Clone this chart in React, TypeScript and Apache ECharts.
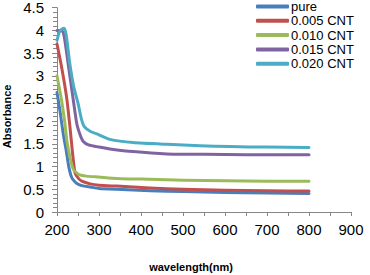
import React, { useEffect, useRef } from "react";
import * as echarts from "echarts";

const seriesNames = ["pure", "0.005 CNT", "0.010 CNT", "0.015 CNT", "0.020 CNT"];
const seriesColors = ["#4A7EBB", "#C0504D", "#9BBB59", "#8064A2", "#4BACC6"];

const pure: [number, number][] = [
  [200, 2.63], [207, 2.23], [215, 1.71], [222, 1.35], [228, 1.0], [235, 0.76], [243, 0.66], [251, 0.61],
  [265, 0.57], [279, 0.55], [300, 0.52], [342, 0.5], [421, 0.47], [501, 0.45], [600, 0.43], [700, 0.42], [800, 0.41],
];
const cnt005: [number, number][] = [
  [200, 3.7], [211, 3.19], [223, 2.52], [231, 1.86], [237, 1.3], [243, 0.86], [251, 0.74], [259, 0.68],
  [279, 0.62], [300, 0.59], [342, 0.57], [421, 0.53], [500, 0.5], [600, 0.48], [700, 0.47], [800, 0.46],
];
const cnt010: [number, number][] = [
  [200, 3.0], [211, 2.45], [219, 1.94], [223, 1.6], [231, 1.2], [239, 0.94], [251, 0.83], [270, 0.79],
  [300, 0.77], [342, 0.74], [421, 0.72], [501, 0.7], [600, 0.69], [700, 0.68], [800, 0.68],
];
const cnt015: [number, number][] = [
  [200, 4.0], [210, 4.0], [215, 3.95], [220, 3.7], [226, 3.3], [236, 2.65], [247, 1.95], [255, 1.7],
  [262, 1.56], [275, 1.48], [300, 1.43], [326, 1.39], [381, 1.33], [462, 1.28], [550, 1.27], [650, 1.26], [800, 1.26],
];
const cnt020: [number, number][] = [
  [200, 3.78], [205, 3.95], [210, 4.02], [217, 4.05], [222, 3.9], [230, 3.3], [240, 2.75], [250, 2.4],
  [258, 2.05], [265, 1.88], [279, 1.78], [300, 1.7], [326, 1.6], [381, 1.53], [462, 1.49], [540, 1.46],
  [612, 1.44], [700, 1.43], [800, 1.42],
];
const seriesData = [pure, cnt005, cnt010, cnt015, cnt020];

const xMin = 200;
const xMax = 900;
const xInterval = 100;
const yMin = 0;
const yMax = 4.5;
const yInterval = 0.5;

export default function App() {
  const ref = useRef<HTMLDivElement>(null);
  useEffect(() => {
    if (!ref.current) return;
    const chart = echarts.init(ref.current, null, { renderer: "svg" });
    const axisColor = "#868686";
    const font = "Liberation Sans, Arial, sans-serif";
    chart.setOption({
      animation: false,
      backgroundColor: "#ffffff",
      grid: { left: 57, right: 19, top: 7.7, bottom: 63, containLabel: false, outerBoundsMode: "none" },
      legend: {
        orient: "vertical",
        left: 256,
        top: 0,
        padding: 0,
        itemWidth: 33,
        itemHeight: 4,
        itemGap: 1.3,
        icon: "roundRect",
        textStyle: { fontFamily: font, fontSize: 13, color: "#000", padding: [0, 0, 0, -3], lineHeight: 13 },
        data: seriesNames,
      },
      xAxis: {
        type: "value",
        min: xMin,
        max: xMax,
        interval: xInterval,
        name: "wavelength(nm)",
        nameLocation: "middle",
        nameGap: 49,
        nameTextStyle: { fontFamily: font, fontSize: 11, fontWeight: "bold", color: "#000", padding: [0, 26, 0, 0] },
        axisLine: { show: true, onZero: false, lineStyle: { color: axisColor, width: 1 } },
        axisTick: { show: true, length: 4, lineStyle: { color: axisColor } },
        minorTick: { show: true, splitNumber: 2, length: 4, lineStyle: { color: axisColor } },
        splitLine: { show: false },
        axisLabel: { fontFamily: font, fontSize: 15, color: "#000", margin: 10 },
      },
      yAxis: {
        type: "value",
        min: yMin,
        max: yMax,
        interval: yInterval,
        name: "Absorbance",
        nameLocation: "middle",
        nameGap: 38,
        nameTextStyle: { fontFamily: font, fontSize: 11, fontWeight: "bold", color: "#000", padding: [0, 13, 0, 0] },
        axisLine: { show: true, lineStyle: { color: axisColor, width: 1 } },
        axisTick: { show: true, length: 5, lineStyle: { color: axisColor } },
        minorTick: { show: true, splitNumber: 5, length: 4, lineStyle: { color: axisColor } },
        splitLine: { show: false },
        axisLabel: { fontFamily: font, fontSize: 15, color: "#000", margin: 13 },
      },
      series: seriesNames.map((name, i) => ({
        name,
        type: "line",
        data: seriesData[i],
        showSymbol: false,
        symbol: "none",
        smooth: 0.2,
        lineStyle: { color: seriesColors[i], width: 3, cap: "round", join: "round" },
        itemStyle: { color: seriesColors[i] },
        z: 2 + i,
      })),
    });
    return () => chart.dispose();
  }, []);
  return <div ref={ref} style={{ width: 370, height: 275, position: "absolute", left: 0, top: 0 }} />;
}
